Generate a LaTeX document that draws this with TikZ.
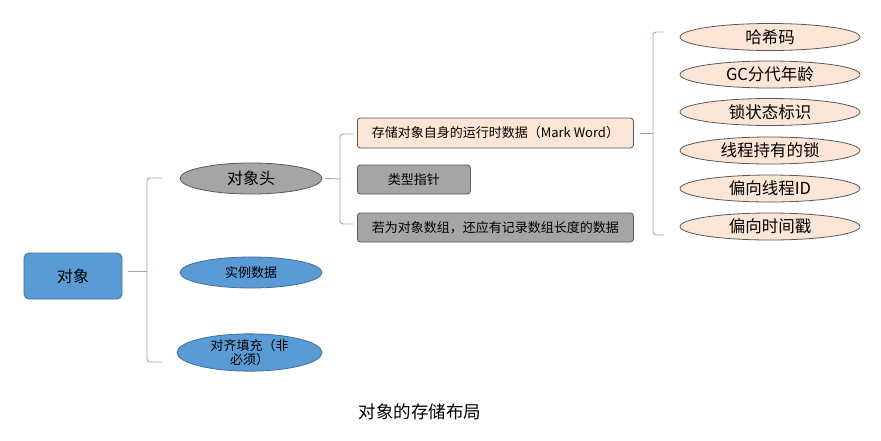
\documentclass[tikz,border=0pt]{standalone}
\usepackage{fontspec}
\setmainfont{Noto Sans CJK SC}
\newfontfamily\cjk{Noto Sans CJK SC}
\usetikzlibrary{shapes.geometric}
\definecolor{bluefill}{HTML}{5B9BD5}
\definecolor{blueline}{HTML}{41719C}
\definecolor{grayfill}{HTML}{A5A5A5}
\definecolor{grayline}{HTML}{595959}
\definecolor{peach}{HTML}{FBE5D6}
\definecolor{brk}{HTML}{8FAAC4}
\tikzset{
  rootbox/.style={draw=blueline, fill=bluefill, rounded corners=5pt, line width=0.8pt, minimum width=98pt, minimum height=46pt, inner sep=0pt, font=\cjk\fontsize{16}{18}\selectfont},
  blueell/.style={ellipse, draw=blueline, fill=bluefill, line width=0.8pt, minimum width=142pt, minimum height=31pt, inner sep=0pt, font=\cjk\fontsize{13}{14}\selectfont},
  grayell/.style={ellipse, draw=grayline, fill=grayfill, line width=0.8pt, minimum width=142pt, minimum height=31pt, inner sep=0pt, font=\cjk\fontsize{16}{18}\selectfont},
  peachbox/.style={draw=grayline, fill=peach, rounded corners=3pt, line width=0.8pt, minimum height=30pt, inner sep=0pt, font=\cjk\fontsize{13}{14}\selectfont},
  graybox/.style={draw=grayline, fill=grayfill, rounded corners=3pt, line width=0.8pt, minimum height=29pt, inner sep=0pt, font=\cjk\fontsize{13}{14}\selectfont},
  peachell/.style={ellipse, draw=grayline, fill=peach, line width=0.8pt, minimum width=180pt, minimum height=27pt, inner sep=0pt, font=\cjk\fontsize{16.5}{18}\selectfont},
  brace/.style={draw=brk, line width=0.9pt, rounded corners=3pt},
  stub/.style={draw=brk, line width=0.9pt},
}
\begin{document}
\begin{tikzpicture}[x=1pt,y=-1pt]
\useasboundingbox[fill=white] (0,0) rectangle (881,440);
% root
\node[rootbox] (obj) at (73,276) {对象};
% level 1
\node[grayell] (head) at (251,178.5) {对象头};
\node[blueell] (inst) at (251,272.5) {实例数据};
\node[blueell, minimum width=145pt, align=center] (pad) at (249.5,352.5) {对齐填充（非\\必须）};
% level 1 brace
\coordinate (b1) at (147,271);
\draw[stub] (obj.east) ++(6,-5) -- (b1);
\draw[brace] (162,178) -- (147,178) -- (147,362) -- (162,362);
% level 2
\node[peachbox, minimum width=276pt, anchor=west] (mw) at (357,133) {存储对象自身的运行时数据（Mark Word）};
\node[graybox, minimum width=113pt, anchor=west] (kp) at (357,179.5) {类型指针};
\node[graybox, minimum width=276pt, anchor=west] (arr) at (357,227.5) {若为对象数组，还应有记录数组长度的数据};
\coordinate (b2) at (340,179);
\draw[stub] (head.east) ++(3,0) -- (b2);
\draw[brace] (353,134) -- (340,134) -- (340,224) -- (353,224);
% level 3
\node[peachell] (h1) at (770,37) {哈希码};
\node[peachell] (h2) at (770,74.5) {GC分代年龄};
\node[peachell] (h3) at (770,112) {锁状态标识};
\node[peachell] (h4) at (770,150.5) {线程持有的锁};
\node[peachell] (h5) at (770,188.5) {偏向线程ID};
\node[peachell] (h6) at (770,226.5) {偏向时间戳};
\coordinate (b3) at (653,133);
\draw[stub] (mw.east) ++(6,0) -- (b3);
\draw[brace] (664,32) -- (653,32) -- (653,235) -- (664,235);
% caption
\node[font=\cjk\fontsize{17.5}{19}\selectfont] (cap) at (420,412) {对象的存储布局};
\end{tikzpicture}
\end{document}
